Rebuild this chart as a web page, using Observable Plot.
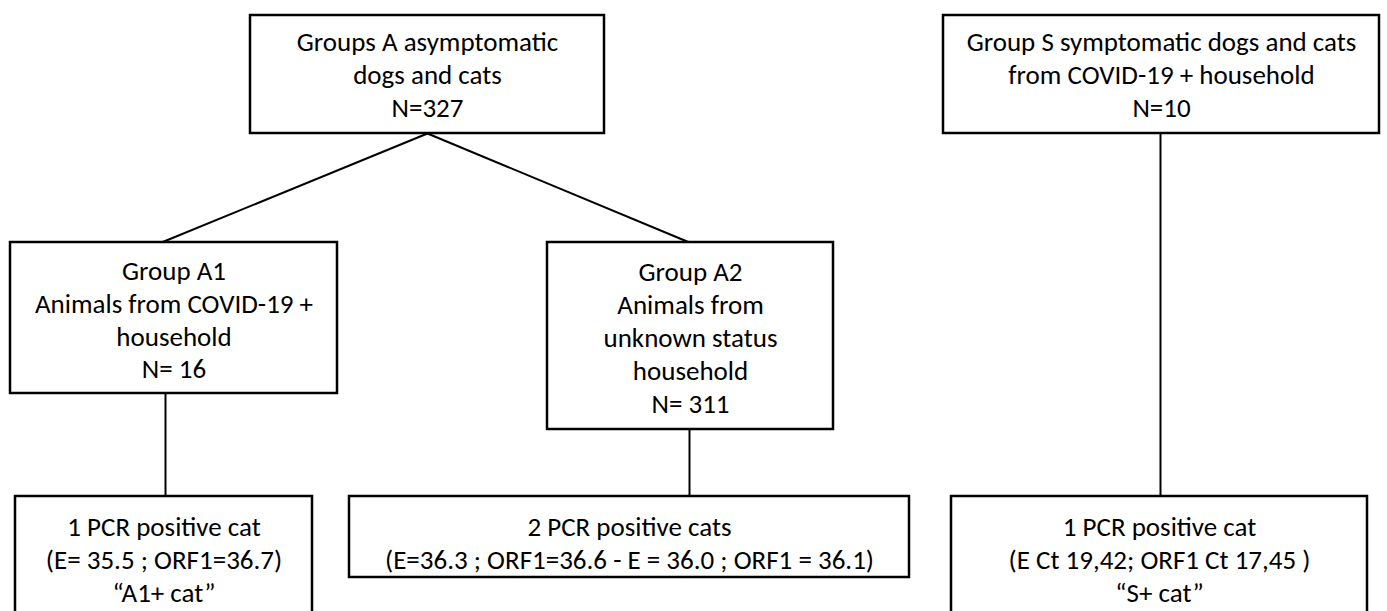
<!DOCTYPE html>
<html><head><meta charset="utf-8">
<script src="https://cdn.jsdelivr.net/npm/d3@7"></script>
<script src="https://cdn.jsdelivr.net/npm/@observablehq/plot@0.6"></script>
<style>html,body{margin:0;padding:0;background:#fff;overflow:hidden}</style>
</head><body>
<div id="chart"></div>
<script>
// ---- data ----
const nodeIds = ["A", "S", "A1", "A2", "A1pos", "A2pos", "Spos"];
const nodeTexts = [
  ["Groups A asymptomatic", "dogs and cats", "N=327"],
  ["Group S symptomatic dogs and cats", "from COVID-19 + household", "N=10"],
  ["Group A1", "Animals from COVID-19 +", "household", "N= 16"],
  ["Group A2", "Animals from", "unknown status", "household", "N= 311"],
  ["1 PCR positive cat", "(E= 35.5 ; ORF1=36.7)", "\u201CA1+ cat\u201D"],
  ["2 PCR positive cats", "(E=36.3 ; ORF1=36.6 - E = 36.0 ; ORF1 = 36.1)"],
  ["1 PCR positive cat", "(E Ct 19,42; ORF1 Ct 17,45 )", "\u201CS+ cat\u201D"]
];
const edgeFrom = ["A", "A", "A1", "A2", "S"];
const edgeTo   = ["A1", "A2", "A1pos", "A2pos", "Spos"];

// ---- layout (positions in pixel space of the diagram) ----
const layout = {
  A:     {x1: 250, x2: 604, y1: 15,  y2: 133, ty: 73,  outX: 427},
  S:     {x1: 943, x2: 1379, y1: 15, y2: 133, ty: 73,  outX: 1160},
  A1:    {x1: 10,  x2: 337, y1: 242, y2: 393, ty: 318, inX: 161, outX: 165},
  A2:    {x1: 547, x2: 833, y1: 242, y2: 429, ty: 336, inX: 689, outX: 689},
  A1pos: {x1: 15,  x2: 312, y1: 496, y2: 640, ty: 558, inX: 165},
  A2pos: {x1: 349, x2: 909, y1: 496, y2: 577, ty: 541, inX: 689},
  Spos:  {x1: 951, x2: 1367, y1: 496, y2: 640, ty: 558, inX: 1160}
};

const nodes = nodeIds.map((id, i) => ({id, label: nodeTexts[i].join("\n"), ...layout[id]}));
const byId = Object.fromEntries(nodes.map(d => [d.id, d]));
const edges = edgeFrom.map((f, i) => {
  const a = byId[f], b = byId[edgeTo[i]];
  return {x1: a.outX, y1: a.y2, x2: b.inX, y2: b.y1};
});

const W = 1387, H = 611;
const chart = Plot.plot({
  width: W, height: H,
  margin: 0,
  x: {domain: [0, W], axis: null},
  y: {domain: [0, H], reverse: true, axis: null},
  style: {fontFamily: "Carlito, Calibri, sans-serif", background: "#fff", overflow: "hidden"},
  marks: [
    Plot.link(edges, {x1: "x1", y1: "y1", x2: "x2", y2: "y2", stroke: "#000", strokeWidth: 2}),
    Plot.rect(nodes, {x1: "x1", x2: "x2", y1: "y1", y2: "y2", fill: "#fff", stroke: "#000", strokeWidth: 2.5, clip: "frame"}),
    Plot.text(nodes, {x: d => (d.x1 + d.x2) / 2, y: "ty", text: "label", fontSize: 27, lineHeight: 1.22, fill: "#000", textAnchor: "middle", lineAnchor: "middle"})
  ]
});
document.getElementById("chart").appendChild(chart);
</script></body></html>
